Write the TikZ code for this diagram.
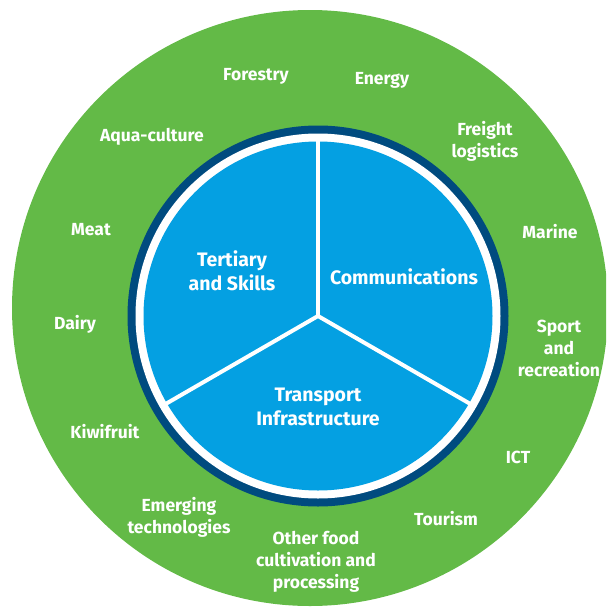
\documentclass[tikz,border=0pt]{standalone}
\usepackage{fontspec}
\setmainfont{Fira Sans}
\usepackage{xcolor}
\usepackage{tikz}
\usetikzlibrary{calc}
\definecolor{sectorgreen}{RGB}{99,186,71}
\definecolor{hubblue}{RGB}{4,160,226}
\definecolor{hubnavy}{RGB}{0,75,127}
\tikzstyle{outer}=[text=white,font=\bfseries\fontsize{17.5}{22}\selectfont,align=center,inner sep=0pt]
\tikzstyle{inner}=[text=white,font=\bfseries\fontsize{19.5}{23.5}\selectfont,align=center,inner sep=0pt]
\tikzstyle{divider}=[white,line width=4pt]

\begin{document}
\begin{tikzpicture}[x=1pt,y=-1pt]
	\useasboundingbox (0,0) rectangle (606,611);
	\clip (0,0) rectangle (606,611);
	% outer ring of sectors
	\fill[sectorgreen] (310,308) circle[radius=298];
	% hub
	\coordinate (o) at (318,316);
	\fill[hubnavy] (o) circle[radius=190.5];
	\fill[white] (o) circle[radius=182.5];
	\fill[hubblue] (o) circle[radius=174.5];
	\draw[divider] (o) -- ++(0,-180);
	\draw[divider] (o) -- ++(-155.9,90);
	\draw[divider] (o) -- ++(155.9,90);
	\node[inner] (tertiary) at (232,271) {Tertiary\\and Skills};
	\node[inner] (comms) at (404,277) {Communications};
	\node[inner] (transport) at (318,407) {Transport\\Infrastructure};
	% sectors
	\node[outer] (forestry) at (256,76) {Forestry};
	\node[outer] (energy) at (382,80) {Energy};
	\node[outer] (freight) at (485,141) {Freight\\logistics};
	\node[outer] (marine) at (550,232) {Marine};
	\node[outer] (sport) at (559,348) {Sport\\and\\recreation};
	\node[outer] (ict) at (518,457) {ICT};
	\node[outer] (tourism) at (446,519) {Tourism};
	\node[outer] (otherfood) at (316,562) {Other food\\cultivation and\\processing};
	\node[outer] (emerging) at (179,517) {Emerging\\technologies};
	\node[outer] (kiwifruit) at (105,432) {Kiwifruit};
	\node[outer] (dairy) at (75,324) {Dairy};
	\node[outer] (meat) at (91,230) {Meat};
	\node[outer] (aqua) at (152,137) {Aqua-culture};
\end{tikzpicture}
\end{document}
